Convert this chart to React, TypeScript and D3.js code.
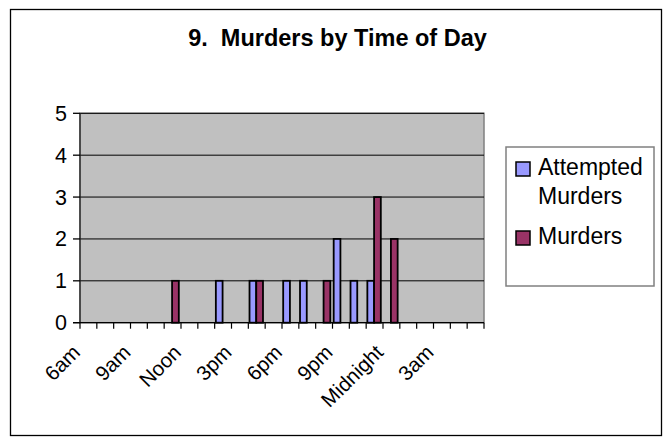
import React from "react";
import * as d3 from "d3";

const categories = [
  "6am", "7am", "8am", "9am", "10am", "11am", "Noon", "1pm", "2pm", "3pm", "4pm", "5pm",
  "6pm", "7pm", "8pm", "9pm", "10pm", "11pm", "Midnight", "1am", "2am", "3am", "4am", "5am",
];
const shownLabels = ["6am", "9am", "Noon", "3pm", "6pm", "9pm", "Midnight", "3am"];
const attempted = [0, 0, 0, 0, 0, 0, 0, 0, 1, 0, 1, 0, 1, 1, 0, 2, 1, 1, 0, 0, 0, 0, 0, 0];
const murders = [0, 0, 0, 0, 0, 1, 0, 0, 0, 0, 1, 0, 0, 0, 1, 0, 0, 3, 2, 0, 0, 0, 0, 0];
const yTicks = [0, 1, 2, 3, 4, 5];
const seriesNames = ["Attempted Murders", "Murders"];
const title = "9.  Murders by Time of Day";

const W = 668;
const H = 438;
const plot = { left: 80, right: 484, top: 113.3, bottom: 322.7 };
const colors = ["#9999FF", "#993366"];
const font = "'Liberation Sans', Arial, sans-serif";

export default function App() {
  const x = d3.scaleBand<string>().domain(categories).range([plot.left, plot.right]).padding(0);
  const y = d3.scaleLinear().domain([0, 5]).range([plot.bottom, plot.top]);
  const step = x.bandwidth();
  const bw = step / 2.5;
  const series = [attempted, murders];

  return (
    <svg width={W} height={H} style={{ position: "absolute", left: 0, top: 0, background: "#fff" }}>
      <rect x={10.5} y={9.5} width={651} height={426} fill="#fff" stroke="#000" strokeWidth={1.3} />
      <text x={337.5} y={46} textAnchor="middle" fontFamily={font} fontWeight="bold" fontSize={23.5}
        style={{ whiteSpace: "pre" }}>
        {title}
      </text>
      {/* plot area */}
      <rect x={plot.left} y={plot.top} width={plot.right - plot.left} height={plot.bottom - plot.top}
        fill="#C0C0C0" stroke="#808080" strokeWidth={1.5} />
      {yTicks.filter((t) => t > 0).map((t) => (
        <line key={"g" + t} x1={plot.left} x2={plot.right} y1={y(t)} y2={y(t)} stroke="#000" strokeWidth={1} />
      ))}
      {/* bars */}
      {series.map((vals, si) =>
        vals.map((v, i) =>
          v > 0 ? (
            <rect key={si + "-" + i}
              x={(x(categories[i]) as number) + bw * 0.25 + si * bw - 0.5}
              y={y(v)} width={bw} height={y(0) - y(v)}
              fill={colors[si]} stroke="#000" strokeWidth={1.8} />
          ) : null
        )
      )}
      {/* axes */}
      <line x1={plot.left} x2={plot.left} y1={plot.top} y2={plot.bottom} stroke="#222" strokeWidth={1.3} />
      <line x1={plot.left - 7} x2={plot.right} y1={plot.bottom} y2={plot.bottom} stroke="#000" strokeWidth={1.3} />
      {yTicks.map((t) => (
        <g key={"yt" + t}>
          <line x1={plot.left - 7} x2={plot.left} y1={y(t)} y2={y(t)} stroke="#000" strokeWidth={1.3} />
          <text x={67} y={y(t) + 7.5} textAnchor="end" fontFamily={font} fontSize={21.5}>{t}</text>
        </g>
      ))}
      {categories.concat(["_end"]).map((c, i) => {
        const xx = plot.left + i * step;
        return <line key={"xt" + i} x1={xx} x2={xx} y1={plot.bottom} y2={plot.bottom + 6} stroke="#000" strokeWidth={1.2} />;
      })}
      {shownLabels.map((c) => {
        const cx = (x(c) as number) + step / 2 - 7;
        const cy = plot.bottom + 31;
        return (
          <text key={"xl" + c} transform={`translate(${cx},${cy}) rotate(-45)`} textAnchor="end"
            fontFamily={font} fontSize={20.5}>{c}</text>
        );
      })}
      {/* legend */}
      <rect x={506} y={147} width={148} height={139} fill="#fff" stroke="#808080" strokeWidth={1.5} />
      <rect x={516} y={162} width={14} height={14} fill={colors[0]} stroke="#000" strokeWidth={1.5} />
      <rect x={516} y={231} width={14} height={14} fill={colors[1]} stroke="#000" strokeWidth={1.5} />
      <text x={538} y={175} fontFamily={font} fontSize={23}>Attempted</text>
      <text x={538} y={204} fontFamily={font} fontSize={23}>Murders</text>
      <text x={538} y={243.5} fontFamily={font} fontSize={23}>{seriesNames[1]}</text>
    </svg>
  );
}
